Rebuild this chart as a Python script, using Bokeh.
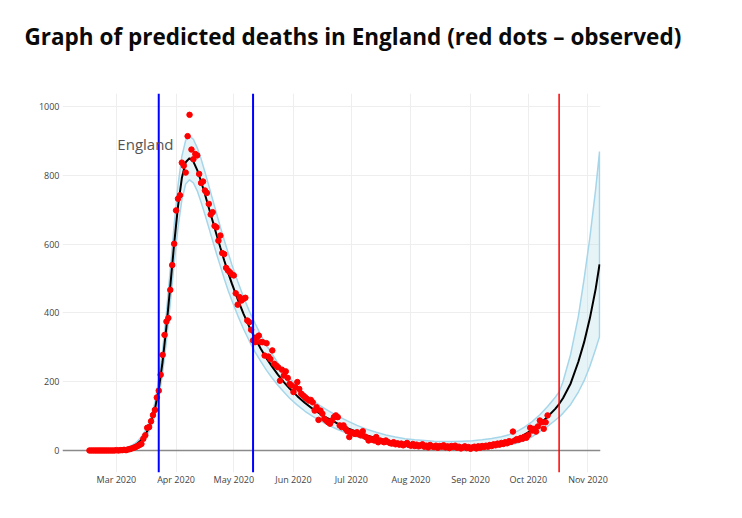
from datetime import datetime, timedelta
from bokeh.plotting import figure
from bokeh.models import Range1d, FixedTicker, Span, Label, Title
from bokeh.embed import file_html
from bokeh.resources import INLINE

# ---------------- data ----------------
BASE = datetime(2020, 3, 1)          # day 0
EPOCH = datetime(1970, 1, 1)

obs_start_day = -14                  # first observed point (16 Feb 2020)
obs_deaths = [
    0, 0, 0, 0, 0, 0, 0, 0, 0, 0, 0, 0, 0, 0, 1,
    0, 1, 1, 2, 1, 3, 4, 6, 8, 10, 13, 16,
    19, 34, 44, 66, 68, 85, 103, 118, 154, 174,
    220, 278, 336, 375, 385, 467, 539, 601, 698, 732,
    742, 837, 828, 808, 914, 976, 875, 847, 862, 858,
    804, 778, 782, 756, 749, 717, 686, 693, 653, 649,
    610, 625, 574, 571, 531, 523, 518, 512, 509, 457,
    424, 446, 436, 441, 444, 378, 373, 351, 320, 315,
    329, 334, 315, 315, 276, 312, 273, 266, 291, 252,
    247, 242, 203, 235, 218, 230, 211, 194, 189, 170,
    184, 199, 179, 165, 160, 155, 150, 145, 147, 140,
    116, 126, 89, 116, 107, 92, 87, 82, 78, 87,
    97, 102, 97, 73, 68, 73, 63, 56, 39, 53,
    50, 48, 53, 47, 44, 56, 41, 38, 29, 34,
    31, 29, 39, 24, 29, 27, 24, 29, 25, 22,
    20, 24, 18, 21, 17, 20, 15, 18, 22, 16,
    14, 19, 13, 17, 12, 15, 18, 11, 14, 9,
    16, 12, 10, 14, 8, 13, 11, 15, 9, 12,
    7, 13, 10, 14, 8, 11, 6, 9, 12, 7,
    10, 5, 9, 11, 6, 12, 8, 13, 10, 14,
    11, 16, 13, 18, 15, 20, 17, 22, 19, 24,
    21, 27, 25, 55, 29, 33, 31, 36, 34, 40,
    37, 45, 66, 58, 63, 55, 70, 87, 82, 63,
    82, 102,
]

fit_days = [-14, -10, -6, -2, 2, 5, 8, 10, 12, 14,
            16, 18, 20, 22, 24, 26, 28, 30, 32, 34,
            36, 38, 40, 42, 44, 46, 48, 50, 52, 54,
            56, 58, 60, 63, 66, 69, 72, 75, 78, 81,
            84, 87, 90, 94, 98, 102, 106, 110, 115, 120,
            125, 130, 135, 140, 145, 150, 155, 160, 165, 170,
            175, 180, 185, 190, 195, 200, 204, 208, 212, 216,
            220, 224, 228, 230, 232, 236, 240, 243, 246, 249,
            251]
fit_mid = [0, 0, 0.5, 1, 2.5, 5, 10, 16, 25, 38,
           56, 82, 120, 178, 258, 360, 478, 600, 710, 792,
           838, 850, 840, 815, 782, 745, 706, 667, 628, 590,
           553, 518, 485, 440, 398, 360, 327, 296, 268, 243,
           220, 199, 180, 158, 138, 121, 106, 93, 78, 65,
           54, 44, 36, 29, 24, 20, 17, 15, 13, 12,
           12, 12, 13, 15, 18, 23, 28, 35, 46, 60,
           77, 98, 121, 135, 152, 195, 258, 315, 385, 470,
           541]
fit_hi = [1, 1, 1.5, 3, 5, 8, 15, 22, 33, 48,
          68, 97, 140, 205, 292, 402, 527, 655, 770, 855,
          902, 914, 905, 880, 848, 810, 770, 730, 690, 650,
          612, 576, 540, 492, 447, 406, 370, 336, 306, 279,
          254, 231, 211, 187, 165, 146, 130, 116, 100, 86,
          73, 62, 53, 45, 39, 34, 31, 29, 27, 26,
          26, 27, 28, 31, 35, 40, 46, 55, 68, 84,
          104, 128, 155, 170, 200, 280, 390, 500, 620, 760,
          869]
fit_lo = [0, 0, 0, 0, 1, 3, 6, 11, 18, 29,
          44, 67, 100, 152, 225, 318, 428, 543, 648, 728,
          775, 787, 778, 755, 722, 686, 648, 610, 572, 536,
          500, 466, 436, 393, 354, 319, 287, 259, 233, 210,
          189, 170, 152, 132, 114, 99, 86, 74, 61, 50,
          40, 32, 25, 19, 15, 11, 8, 6, 5, 4,
          4, 4, 5, 6, 8, 12, 16, 21, 29, 40,
          55, 70, 88, 97, 108, 134, 170, 203, 245, 295,
          331]

month_ticks = ["2020-03-01", "2020-04-01", "2020-05-01", "2020-06-01",
               "2020-07-01", "2020-08-01", "2020-09-01", "2020-10-01",
               "2020-11-01"]
month_labels = ["Mar 2020", "Apr 2020", "May 2020", "Jun 2020", "Jul 2020",
                "Aug 2020", "Sep 2020", "Oct 2020", "Nov 2020"]
y_ticks = [0, 200, 400, 600, 800, 1000]
blue_line_dates = ["2020-03-23", "2020-05-11"]
red_line_date = "2020-10-17"
x_start, x_end = "2020-02-02", "2020-11-07T12:00"
y_start, y_end = -64, 1038

title_text = "Graph of predicted deaths in England (red dots \u2013 observed)"
region_text = "England"
region_pos = ("2020-03-01T12:00", 892)


def ms_of_day(d):
    return (BASE + timedelta(days=d) - EPOCH).total_seconds() * 1000.0


def ms_of_str(s):
    return (datetime.fromisoformat(s) - EPOCH).total_seconds() * 1000.0


obs_x = [ms_of_day(obs_start_day + i) for i in range(len(obs_deaths))]
fit_x = [ms_of_day(d) for d in fit_days]

# ---------------- figure ----------------
p = figure(width=742, height=518, output_backend="svg", toolbar_location=None,
           x_axis_type="datetime",
           x_range=Range1d(ms_of_str(x_start), ms_of_str(x_end)),
           y_range=Range1d(y_start, y_end),
           min_border_left=62, min_border_right=142,
           min_border_top=93, min_border_bottom=46)
p.outline_line_color = None
p.background_fill_color = "white"
p.border_fill_color = "white"

# spacer between frame and title (closest to the frame), then the title
p.add_layout(Title(text=" ", text_font_size="16px", standoff=18), "above")
p.add_layout(Title(text=title_text, text_font="Open Sans", text_font_style="bold",
                   text_font_size="22.5px", text_color="#0a0a0a",
                   align="left", offset=-38), "above")

tick_ms = [ms_of_str(s) for s in month_ticks]
p.xaxis.ticker = FixedTicker(ticks=tick_ms)
p.xaxis.major_label_overrides = {t: lab for t, lab in zip(tick_ms, month_labels)}
p.yaxis.ticker = FixedTicker(ticks=y_ticks)
for ax in (p.xaxis, p.yaxis):
    ax.axis_line_color = None
    ax.major_tick_line_color = None
    ax.minor_tick_line_color = None
    ax.major_tick_in = 0
    ax.major_tick_out = 0
    ax.major_label_text_font = "Open Sans"
    ax.major_label_text_font_size = "9px"
    ax.major_label_text_color = "#444444"
p.xaxis.major_label_standoff = 0
p.yaxis.major_label_standoff = 3
p.xgrid.ticker = FixedTicker(ticks=tick_ms)
p.ygrid.ticker = FixedTicker(ticks=y_ticks)
p.xgrid.grid_line_color = "#eeeeee"
p.ygrid.grid_line_color = "#eeeeee"

# zero line
p.add_layout(Span(location=0, dimension="width", line_color="#8a8a8a",
                  line_width=1.5, level="underlay"))

# confidence band
band_x = fit_x + fit_x[::-1]
band_y = fit_hi + fit_lo[::-1]
p.patch(band_x, band_y, fill_color="#add8e6", fill_alpha=0.3,
        line_color="#a6d6ea", line_width=1.5)

# fitted curve
p.line(fit_x, fit_mid, line_color="black", line_width=2)

# observed
p.scatter(obs_x, obs_deaths, size=5.5, color="#ff0000", line_color="#ff0000")

# vertical markers
for s in blue_line_dates:
    p.add_layout(Span(location=ms_of_str(s), dimension="height",
                      line_color="#0000ff", line_width=2))
p.add_layout(Span(location=ms_of_str(red_line_date), dimension="height",
                  line_color="#ff0000", line_width=1.5))

# region label
p.add_layout(Label(x=ms_of_str(region_pos[0]), y=region_pos[1], text=region_text,
                   text_font="Open Sans", text_font_size="15px",
                   text_color="#555555", text_baseline="middle",
                   text_align="left"))

open("out.html", "w").write(file_html(p, INLINE))
